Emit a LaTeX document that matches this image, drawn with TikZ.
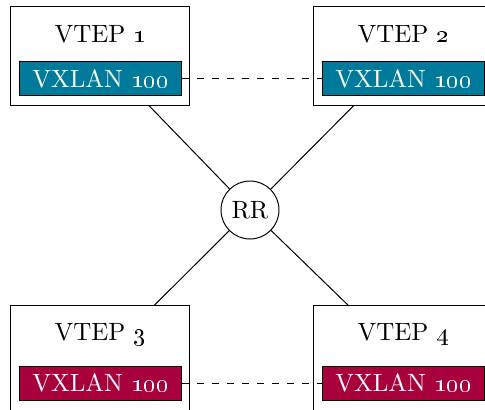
\documentclass[tikz,border=0pt]{standalone}
\usetikzlibrary{positioning}
\definecolor{vxblue}{RGB}{0,122,154}
\definecolor{vxred}{RGB}{168,0,60}
\newcommand\upy{61.8pt}
\newcommand\dny{59.6pt}
\newcommand\lfx{59.8pt}
\newcommand\rtx{61.4pt}
\newcommand\ttl{11.6pt}
\newcommand\vxl{29.2pt}
\newcommand\vxlb{31.2pt}

\begin{document}
\begin{tikzpicture}[on grid,
    vtep/.style={draw, minimum width=71.6pt, minimum height=39.6pt, inner sep=0pt},
    vteplow/.style={vtep, minimum height=42.6pt},
    vxlan/.style={draw, fill=#1, text=white, minimum width=64.8pt, minimum height=13.6pt, inner sep=0pt},
    rr/.style={draw, circle, minimum size=23.2pt, inner sep=0pt}]
  \useasboundingbox (-100pt,-80pt) rectangle (94pt,84pt);
  \node[rr] (r) {RR};
  % tunnel endpoints
  \node[vtep, above left=\upy and \lfx of r] (v1) {};
  \node[vtep, above right=\upy and \rtx of r] (v2) {};
  \node[vteplow, below left=\dny and \lfx of r] (v3) {};
  \node[vteplow, below right=\dny and \rtx of r] (v4) {};
  % titles
  \node (t1) at ([yshift=-\ttl]v1.north) {VTEP \oldstylenums{1}};
  \node (t2) at ([yshift=-\ttl]v2.north) {VTEP \oldstylenums{2}};
  \node (t3) at ([yshift=-\ttl]v3.north) {VTEP \oldstylenums{3}};
  \node (t4) at ([yshift=-\ttl]v4.north) {VTEP \oldstylenums{4}};
  % vxlan segments
  \node[vxlan=vxblue] (x1) at ([yshift=-\vxl]v1.north) {VXLAN \oldstylenums{100}};
  \node[vxlan=vxblue] (x2) at ([yshift=-\vxl]v2.north) {VXLAN \oldstylenums{100}};
  \node[vxlan=vxred] (x3) at ([yshift=-\vxlb]v3.north) {VXLAN \oldstylenums{100}};
  \node[vxlan=vxred] (x4) at ([yshift=-\vxlb]v4.north) {VXLAN \oldstylenums{100}};

  \draw (r) -- (v1);
  \draw (r) -- (v2);
  \draw (r) -- (v3);
  \draw (r) -- (v4);
  \draw[dashed] (x1) -- (x2);
  \draw[dashed] (x3) -- (x4);
\end{tikzpicture}
\end{document}
